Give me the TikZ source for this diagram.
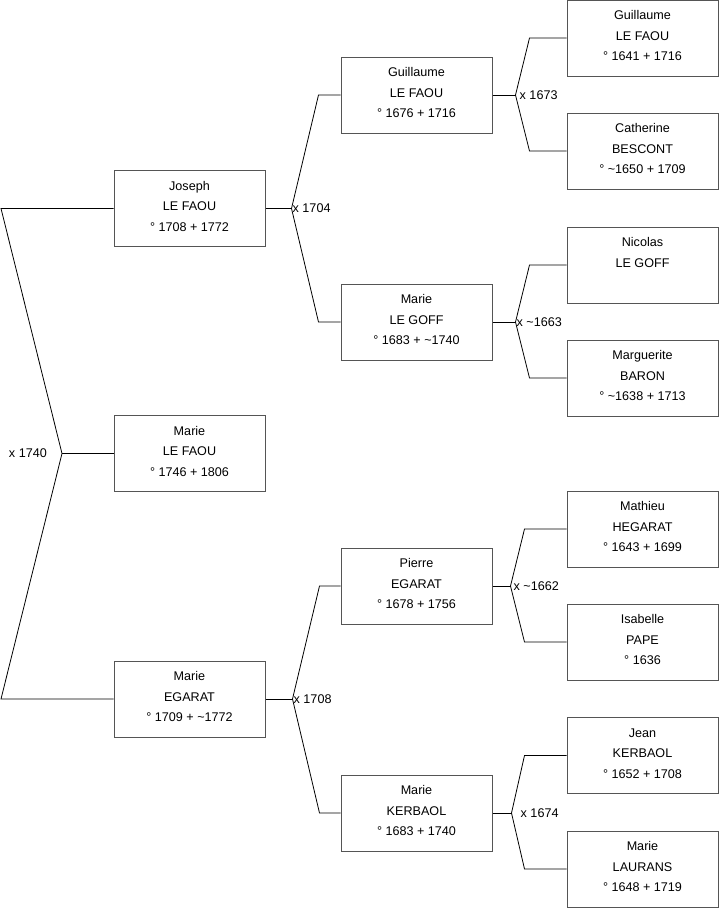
\documentclass[tikz,border=0pt]{standalone}
\usepackage{fontspec}
\setmainfont{Liberation Sans}
\usepackage{tikz}
\definecolor{boxGray}{RGB}{85, 85, 85}
\newcommand{\pers}[3]{\strut #1\\\strut #2\\\strut #3\rule[-10.3pt]{0pt}{10.3pt}}

\begin{document}
\begin{tikzpicture}[x=1pt, y=-1pt,
    person/.style={draw=boxGray, line width=1pt, fill=white, minimum width=151pt,
      minimum height=76pt, inner sep=0pt, align=center,
      font=\fontsize{12.6}{20.5}\selectfont},
    union/.style={anchor=west, inner sep=1pt, font=\fontsize{12.6}{15}\selectfont},
    link/.style={line width=0.8pt}]
      \useasboundingbox (0,0) rectangle (719,908);

      % generation 0
      \node[person] (joseph) at (189.5,208.5) {\pers{Joseph}{LE FAOU}{° 1708 + 1772}};
      \node[person] (marieF) at (189.5,453.5) {\pers{Marie}{LE FAOU}{° 1746 + 1806}};
      \node[person] (marieE) at (189.5,699) {\pers{Marie}{EGARAT}{° 1709 + \textasciitilde 1772}};

      % generation 1
      \node[person] (guillaumeF) at (416.5,95) {\pers{Guillaume}{LE FAOU}{° 1676 + 1716}};
      \node[person] (marieG) at (416.5,322) {\pers{Marie}{LE GOFF}{° 1683 + \textasciitilde 1740}};
      \node[person] (pierreE) at (416.5,586) {\pers{Pierre}{EGARAT}{° 1678 + 1756}};
      \node[person] (marieK) at (416.5,813) {\pers{Marie}{KERBAOL}{° 1683 + 1740}};

      % generation 2
      \node[person] (guillaumeFF) at (642.5,38) {\pers{Guillaume}{LE FAOU}{° 1641 + 1716}};
      \node[person] (catherineB) at (642.5,151) {\pers{Catherine}{BESCONT}{° \textasciitilde 1650 + 1709}};
      \node[person] (nicolasG) at (642.5,265) {\pers{Nicolas}{LE GOFF}{}};
      \node[person] (margueriteB) at (642.5,378) {\pers{Marguerite}{BARON}{° \textasciitilde 1638 + 1713}};
      \node[person] (mathieuH) at (642.5,529) {\pers{Mathieu}{HEGARAT}{° 1643 + 1699}};
      \node[person] (isabelleP) at (642.5,642) {\pers{Isabelle}{PAPE}{° 1636}};
      \node[person] (jeanK) at (642.5,755.5) {\pers{Jean}{KERBAOL}{° 1652 + 1708}};
      \node[person] (marieL) at (642.5,869) {\pers{Marie}{LAURANS}{° 1648 + 1719}};

      % marriage x 1740
      \coordinate (u0) at (62,453.5);
      \draw[link] (joseph.west) -- (1,208.5) -- (u0) -- (1,699) -- (marieE.west);
      \draw[link] (u0) -- (marieF.west);
      \node[union, anchor=east, xshift=-14pt] (m0) at (u0) {x 1740};

      % marriages of generation 1
      \coordinate (u1) at ([xshift=26pt]joseph.east);
      \draw[link] (joseph.east) -- (u1);
      \draw[link] (guillaumeF.west) -- +(-22,0) -- (u1);
      \draw[link] (marieG.west) -- +(-22,0) -- (u1);
      \node[union] (m1) at (u1) {x 1704};

      \coordinate (u2) at ([xshift=27pt]marieE.east);
      \draw[link] (marieE.east) -- (u2);
      \draw[link] (pierreE.west) -- +(-21,0) -- (u2);
      \draw[link] (marieK.west) -- +(-21,0) -- (u2);
      \node[union] (m2) at (u2) {x 1708};

      % marriages of generation 2
      \coordinate (u3) at ([xshift=23pt]guillaumeF.east);
      \draw[link] (guillaumeF.east) -- (u3);
      \draw[link] (guillaumeFF.west) -- +(-37,0) -- (u3);
      \draw[link] (catherineB.west) -- +(-37,0) -- (u3);
      \node[union, xshift=3pt] (m3) at (u3) {x 1673};

      \coordinate (u4) at ([xshift=23pt]marieG.east);
      \draw[link] (marieG.east) -- (u4);
      \draw[link] (nicolasG.west) -- +(-37,0) -- (u4);
      \draw[link] (margueriteB.west) -- +(-37,0) -- (u4);
      \node[union] (m4) at (u4) {x \textasciitilde 1663};

      \coordinate (u5) at ([xshift=18pt]pierreE.east);
      \draw[link] (pierreE.east) -- (u5);
      \draw[link] (mathieuH.west) -- +(-42,0) -- (u5);
      \draw[link] (isabelleP.west) -- +(-42,0) -- (u5);
      \node[union, xshift=2pt] (m5) at (u5) {x \textasciitilde 1662};

      \coordinate (u6) at ([xshift=19pt]marieK.east);
      \draw[link] (marieK.east) -- (u6);
      \draw[link] (jeanK.west) -- +(-42,0) -- (u6);
      \draw[link] (marieL.west) -- +(-42,0) -- (u6);
      \node[union, xshift=8pt] (m6) at (u6) {x 1674};
    \end{tikzpicture}
\end{document}
